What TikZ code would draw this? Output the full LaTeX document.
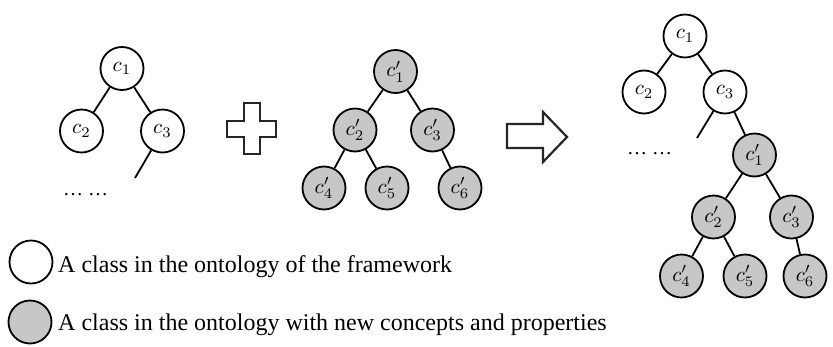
\documentclass[tikz,border=0pt]{standalone}
\usepackage{fontspec}
\setmainfont{Liberation Serif}
\newcommand{\cls}[1]{\scalebox{2.1}{$#1$}}
\begin{document}
\begin{tikzpicture}[x=1pt,y=-1pt,
  cls/.style={circle,draw=black,line width=1.8pt,minimum size=43pt,inner sep=0pt},
  oldcls/.style={cls,fill=white},
  newcls/.style={cls,fill=black!22},
  link/.style={line width=1.8pt},
  bigsign/.style={draw=black!85,line width=2.2pt,fill=white,line join=miter},
  legend/.style={font=\fontsize{24}{28}\selectfont,anchor=base west,inner sep=0pt},
  dotsl/.style={font=\fontsize{20}{22}\selectfont,inner sep=0pt}]
\useasboundingbox (0,0) rectangle (833,346);

% existing ontology
\node[oldcls] (a1) at (122,68.5) {\cls{c_1}};
\node[oldcls] (a2) at (81.5,131) {\cls{c_2}};
\node[oldcls] (a3) at (162.5,131) {\cls{c_3}};
\coordinate (aend) at (135,178);
\draw[link] (a1) -- (a2);
\draw[link] (a1) -- (a3);
\draw[link] (a3) -- (aend);
\node[dotsl] (adots) at (85.5,195) {… …};

% plus sign
\draw[bigsign] (244,103) -- (260,103) -- (260,121) -- (276,121) -- (276,137)
  -- (260,137) -- (260,154) -- (244,154) -- (244,137) -- (227,137) -- (227,121)
  -- (244,121) -- cycle;

% new ontology
\node[newcls] (b1) at (395.5,71.5) {\cls{c'_1}};
\node[newcls] (b2) at (355,130) {\cls{c'_2}};
\node[newcls] (b3) at (432.5,130) {\cls{c'_3}};
\node[newcls] (b4) at (324,188) {\cls{c'_4}};
\node[newcls] (b5) at (387,188) {\cls{c'_5}};
\node[newcls] (b6) at (460,188) {\cls{c'_6}};
\draw[link] (b1) -- (b2);
\draw[link] (b1) -- (b3);
\draw[link] (b2) -- (b4);
\draw[link] (b2) -- (b5);
\draw[link] (b3) -- (b6);

% result arrow
\draw[bigsign] (507,124) -- (543,124) -- (543,112) -- (567,137) -- (543,162)
  -- (543,148) -- (507,148) -- cycle;

% merged ontology
\node[oldcls] (m1) at (685,36) {\cls{c_1}};
\node[oldcls] (m2) at (644,92) {\cls{c_2}};
\node[oldcls] (m3) at (725,92) {\cls{c_3}};
\coordinate (mend) at (697,138);
\node[newcls] (n1) at (754.5,155) {\cls{c'_1}};
\node[newcls] (n2) at (713.5,217) {\cls{c'_2}};
\node[newcls] (n3) at (791.5,217) {\cls{c'_3}};
\node[newcls] (n4) at (681.5,276) {\cls{c'_4}};
\node[newcls] (n5) at (745,276) {\cls{c'_5}};
\node[newcls] (n6) at (805,276) {\cls{c'_6}};
\draw[link] (m1) -- (m2);
\draw[link] (m1) -- (m3);
\draw[link] (m3) -- (mend);
\draw[link] (m3) -- (n1);
\draw[link] (n1) -- (n2);
\draw[link] (n1) -- (n3);
\draw[link] (n2) -- (n4);
\draw[link] (n2) -- (n5);
\draw[link] (n3) -- (n6);
\node[dotsl] (mdots) at (649.5,154) {… …};

% legend
\node[oldcls] (k1) at (31,262) {};
\node[legend] (t1) at (58,272) {A class in the ontology of the framework};
\node[newcls] (k2) at (30,322) {};
\node[legend] (t2) at (58,330) {A class in the ontology with new concepts and properties};
\end{tikzpicture}
\end{document}
